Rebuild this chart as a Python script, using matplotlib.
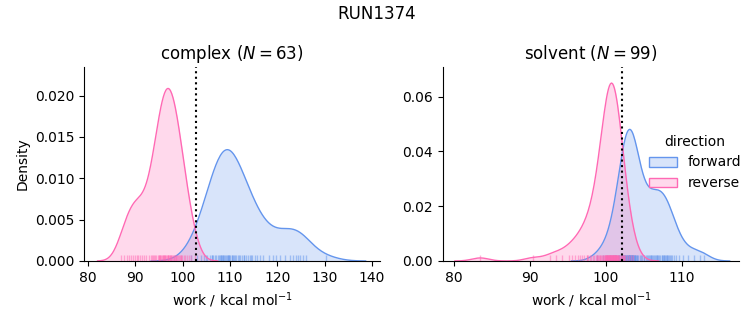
import numpy as np
import matplotlib
matplotlib.use("Agg")
import matplotlib.pyplot as plt
from matplotlib.patches import Patch
from matplotlib.colors import to_rgba

suptitle = "RUN1374"
phases = ["complex", "solvent"]
directions = ["forward", "reverse"]
colors = {"forward": "#6495ED", "reverse": "#FF69B4"}

complex_forward = [
    101.8, 103.1, 103.9, 104.6, 105.2, 105.7, 106.1, 106.5, 106.8, 107.1,
    107.4, 107.7, 108.0, 108.3, 108.5, 108.7, 108.9, 109.1, 109.3, 109.5,
    109.8, 110.1, 110.4, 110.7, 111.0, 111.3, 111.6, 111.9, 112.2, 112.6,
    113.0, 113.4, 113.8, 114.2, 114.7, 115.2, 115.7, 116.3, 116.9, 108.6,
    118.2, 119.0, 119.8, 120.6, 121.6, 122.7, 123.4, 123.9, 124.3, 124.8,
    125.5, 126.1, 109.6, 110.5, 130.2, 108.1, 109.7, 110.9, 107.9, 112.9,
    105.0, 106.3, 114.5,
]
complex_reverse = [
    86.9, 87.6, 88.2, 88.7, 89.1, 89.5, 89.9, 90.3, 90.6, 91.0,
    91.4, 91.9, 92.3, 92.8, 93.3, 93.7, 94.1, 94.4, 94.7, 95.0,
    95.2, 95.4, 95.6, 95.8, 96.0, 96.2, 96.3, 96.5, 96.6, 96.8,
    96.9, 97.0, 97.2, 97.3, 97.5, 97.6, 97.8, 98.0, 98.2, 98.4,
    98.6, 98.8, 99.0, 99.2, 99.4, 99.6, 99.9, 100.2, 100.5, 100.9,
    101.3, 101.8, 102.5, 96.1, 93.6, 99.7, 97.4, 95.9, 95.3, 94.9,
    98.1, 98.5, 93.9,
]
solvent_forward = [
    98.9, 99.6, 100.2, 100.6, 100.9, 101.2, 101.4, 101.6, 101.8, 101.95,
    102.1, 102.2, 102.3, 102.4, 102.5, 102.6, 102.7, 102.8, 102.9, 103.0,
    103.1, 103.2, 103.3, 103.4, 103.5, 103.6, 103.7, 103.8, 103.9, 104.0,
    104.1, 104.2, 102.35, 104.5, 102.15, 104.8, 103.02, 105.1, 102.45, 105.4,
    103.12, 105.7, 105.85, 106.0, 106.15, 106.3, 106.45, 106.6, 106.75, 106.9,
    107.05, 107.2, 107.35, 107.5, 107.65, 107.8, 107.95, 108.1, 108.3, 108.5,
    108.75, 109.0, 109.3, 109.7, 110.2, 110.8, 111.6, 112.4, 112.9, 102.95,
    103.05, 103.15, 103.25, 103.35, 103.45, 102.75, 102.55, 103.55, 103.65, 102.85,
    104.05, 103.28, 103.48, 105.0, 108.2, 108.6, 105.6, 105.3, 106.2, 104.7,
    106.8, 105.9, 107.4, 107.7, 108.0, 103.75, 102.65, 101.7, 103.85,
]
solvent_reverse = [
    83.5, 90.4, 92.6, 93.4, 94.3, 95.1, 95.5, 95.9, 96.3, 96.6,
    96.9, 97.2, 97.5, 97.7, 97.9, 98.1, 98.3, 98.5, 98.7, 98.8,
    99.0, 99.1, 99.2, 99.35, 99.5, 99.6, 99.7, 99.8, 99.9, 99.95,
    100.0, 100.05, 100.1, 100.15, 100.2, 100.25, 100.3, 100.35, 100.4, 100.45,
    100.5, 100.55, 100.6, 100.65, 100.7, 100.75, 100.8, 100.85, 100.9, 100.95,
    101.0, 101.05, 101.1, 101.15, 101.2, 101.25, 101.3, 101.35, 101.4, 101.45,
    101.5, 101.55, 101.6, 101.65, 101.7, 101.8, 101.9, 102.0, 102.1, 102.2,
    102.3, 102.45, 102.6, 102.8, 103.0, 103.3, 103.6, 99.85, 100.02, 100.12,
    100.28, 100.38, 100.48, 100.58, 100.68, 100.78, 100.88, 100.98, 101.08, 101.18,
    101.28, 101.38, 101.52, 98.9, 99.3, 102.4, 97.6, 102.15, 101.12,
]
free_energy = {"complex": 102.75, "solvent": 102.1}

data = {
    ("complex", "forward"): complex_forward,
    ("complex", "reverse"): complex_reverse,
    ("solvent", "forward"): solvent_forward,
    ("solvent", "reverse"): solvent_reverse,
}
total = sum(len(v) for v in data.values())


def kde(values, weight, cut=3, gridsize=200):
    x = np.asarray(values, float)
    n = len(x)
    bw = np.std(x, ddof=1) * n ** (-1 / 5)
    grid = np.linspace(x.min() - cut * bw, x.max() + cut * bw, gridsize)
    z = (grid[:, None] - x[None, :]) / bw
    dens = np.exp(-0.5 * z ** 2).sum(axis=1) / (n * bw * np.sqrt(2 * np.pi))
    return grid, dens * weight


fig = plt.figure(figsize=(7.53, 3.25), dpi=100)
axes = [fig.add_axes([0.1116, 0.197, 0.393, 0.597]),
        fig.add_axes([0.588, 0.197, 0.394, 0.597])]
xlims = {"complex": (79.15, 141.7), "solvent": (78.55, 117.6)}
ylims = {"complex": (0, 0.02347), "solvent": (0, 0.0708)}

for ax, phase in zip(axes, phases):
    n = len(data[(phase, "forward")])
    for d in directions:
        vals = data[(phase, d)]
        gx, gy = kde(vals, len(vals) / total)
        ax.fill_between(gx, 0, gy, color=colors[d], alpha=0.25, linewidth=0)
        ax.plot(gx, gy, color=colors[d], linewidth=1)
        ax.vlines(vals, 0, 0.03, transform=ax.get_xaxis_transform(),
                  color=colors[d], alpha=0.5, linewidth=1)
    ax.axvline(free_energy[phase], color="black", linestyle=":", linewidth=1.5)
    ax.set_xlim(*xlims[phase])
    ax.set_ylim(*ylims[phase])
    ax.set_title(f"{phase} ($N={n}$)", fontsize=12)
    ax.set_xlabel("work / kcal mol$^{-1}$")
    ax.spines["top"].set_visible(False)
    ax.spines["right"].set_visible(False)

axes[0].set_ylabel("Density")
axes[0].set_xticks([80, 90, 100, 110, 120, 130, 140])
axes[1].set_xticks([80, 90, 100, 110])
axes[1].set_yticks([0, 0.02, 0.04, 0.06])

handles = [Patch(facecolor=to_rgba(colors[d], 0.25), edgecolor=colors[d])
           for d in directions]
fig.legend(handles, directions, title="direction", frameon=False,
           loc="center left", bbox_to_anchor=(0.845, 0.5), fontsize=10,
           title_fontsize=10)
fig.suptitle(suptitle, fontsize=12, y=0.985)
fig.savefig("out.png", dpi=100)
